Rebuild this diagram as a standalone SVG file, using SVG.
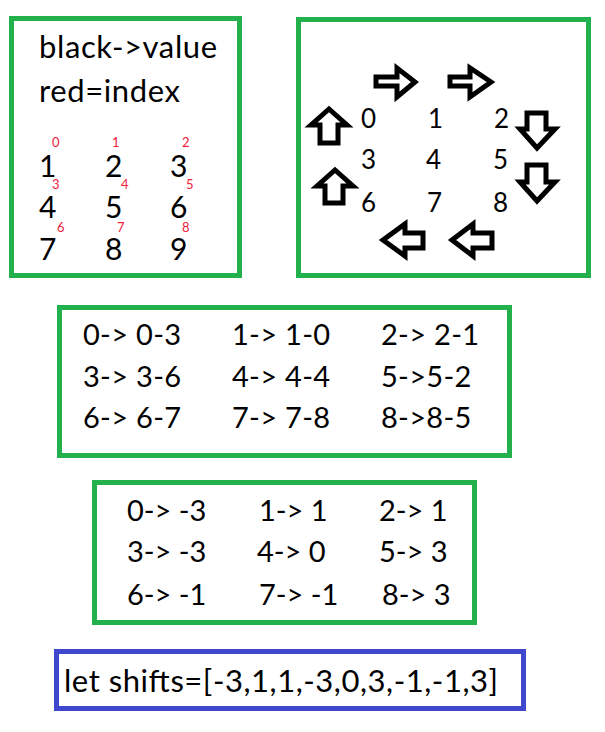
<svg xmlns="http://www.w3.org/2000/svg" width="605" height="732" viewBox="0 0 605 732">
<style>
.g{fill:none;stroke:#22b14c;stroke-width:5}
.b{fill:none;stroke:#3f48cc;stroke-width:5}
.t{font-family:Lato,"Liberation Sans",sans-serif;fill:#000}
.r{font-family:Lato,"Liberation Sans",sans-serif;fill:#f0203a;font-size:13px}
.ar{fill:#fff;stroke:#000;stroke-width:5;stroke-linejoin:miter}
</style>
<rect width="605" height="732" fill="#fff"/>
<g id="legend">
<rect class="g" x="11.5" y="18.5" width="228" height="257"/>
<text class="t" x="39" y="58" font-size="31" letter-spacing="0.6">black-&gt;value</text>
<text class="t" x="39" y="102" font-size="31" letter-spacing="0.6">red=index</text>
<g font-size="30" class="t">
<text class="t" x="39" y="177">1</text><text class="t" x="105" y="177">2</text><text class="t" x="170" y="177">3</text>
<text class="t" x="39" y="218">4</text><text class="t" x="105" y="218">5</text><text class="t" x="170" y="218">6</text>
<text class="t" x="39" y="260">7</text><text class="t" x="105" y="260">8</text><text class="t" x="170" y="260">9</text>
</g>
<text class="r" x="52" y="147">0</text><text class="r" x="112" y="147">1</text><text class="r" x="182" y="147">2</text>
<text class="r" x="52" y="189">3</text><text class="r" x="121" y="189">4</text><text class="r" x="186" y="189">5</text>
<text class="r" x="57" y="232">6</text><text class="r" x="117" y="232">7</text><text class="r" x="182" y="232">8</text>
</g>
<g id="rotation">
<rect class="g" x="298.5" y="19.5" width="290" height="256"/>
<g class="t" font-size="26">
<text x="361" y="128">0</text><text x="428" y="128">1</text><text x="494" y="128">2</text>
<text x="361" y="169">3</text><text x="426" y="169">4</text><text x="493" y="169">5</text>
<text x="361" y="212">6</text><text x="427" y="212">7</text><text x="493" y="212">8</text>
</g>
<g id="arrows">
<polygon class="ar" points="376,77 397,77 397,68 415,82 397,97 397,86 376,86"/>
<polygon class="ar" points="450,77 470,77 470,68 491,82 470,97 470,86 450,86"/>
<polygon class="ar" points="527,113 546,113 546,129 555,129 537,148 520,129 527,129"/>
<polygon class="ar" points="527,165 546,165 546,182 555,182 537,201 520,182 527,182"/>
<polygon class="ar" points="452,240 473,224 473,233 492,233 492,248 473,248 473,256"/>
<polygon class="ar" points="383,240 405,224 405,233 423,233 423,248 405,248 405,256"/>
<polygon class="ar" points="325,203 325,186 317,186 335,170 353,186 343,186 343,203"/>
<polygon class="ar" points="320,143 320,125 311,125 329,109 347,125 338,125 338,143"/>
</g>
</g>
<g id="mapping">
<rect class="g" x="59.5" y="307.5" width="450" height="148"/>
<g class="t" font-size="29" letter-spacing="0.3">
<text x="83" y="345">0-&gt; 0-3</text><text x="232" y="345">1-&gt; 1-0</text><text x="381" y="345">2-&gt; 2-1</text>
<text x="83" y="387">3-&gt; 3-6</text><text x="232" y="387">4-&gt; 4-4</text><text x="381" y="387">5-&gt;5-2</text>
<text x="83" y="428">6-&gt; 6-7</text><text x="232" y="428">7-&gt; 7-8</text><text x="381" y="428">8-&gt;8-5</text>
</g>
</g>
<g id="shifts-table">
<rect class="g" x="94.5" y="482.5" width="380" height="140"/>
<g class="t" font-size="29">
<text x="127" y="521">0-&gt; -3</text><text x="259" y="521">1-&gt; 1</text><text x="379" y="521">2-&gt; 1</text>
<text x="127" y="562">3-&gt; -3</text><text x="257" y="562">4-&gt; 0</text><text x="379" y="562">5-&gt; 3</text>
<text x="127" y="605">6-&gt; -1</text><text x="259" y="605">7-&gt; -1</text><text x="382" y="605">8-&gt; 3</text>
</g>
</g>
<g id="result">
<rect class="b" x="56.5" y="651.5" width="467" height="57"/>
<text class="t" x="64" y="692" font-size="31" textLength="434" lengthAdjust="spacing">let shifts=[-3,1,1,-3,0,3,-1,-1,3]</text>
</g>
</svg>
